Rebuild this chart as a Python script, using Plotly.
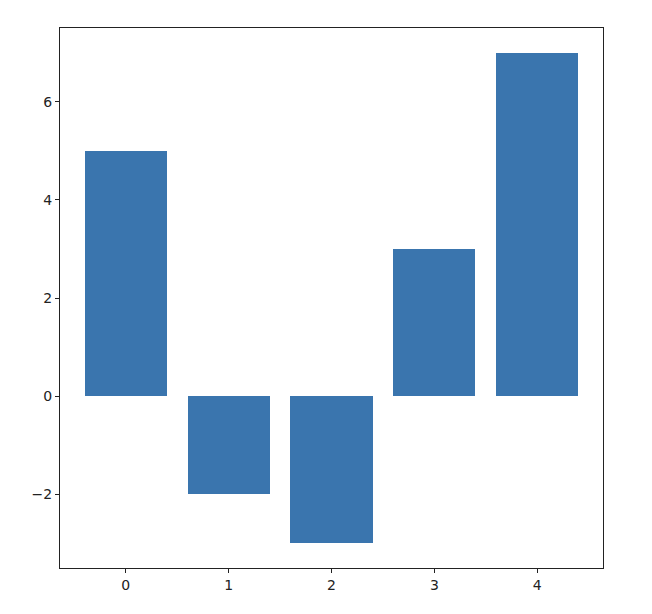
import plotly.graph_objects as go

categories = [0, 1, 2, 3, 4]
values = [5, -2, -3, 3, 7]
x_ticks = [0, 1, 2, 3, 4]
y_ticks = [-2, 0, 2, 4, 6]

BAR_COLOR = "#3a75ae"
AXIS_COLOR = "#222222"

fig = go.Figure()
fig.add_trace(
    go.Bar(
        x=categories,
        y=values,
        width=0.8,
        marker_color=BAR_COLOR,
        marker_line_width=0,
        showlegend=False,
    )
)

axis_style = dict(
    showline=True,
    linecolor=AXIS_COLOR,
    linewidth=1.2,
    mirror=True,
    ticks="outside",
    ticklen=4,
    tickwidth=1,
    tickcolor=AXIS_COLOR,
    showgrid=False,
    zeroline=False,
    tickfont=dict(family="DejaVu Sans", size=14, color="#222222"),
)

# page body adds an 8px offset, so margins are shifted to compensate
fig.update_layout(
    width=652,
    height=614,
    plot_bgcolor="white",
    paper_bgcolor="white",
    margin=dict(l=52, r=57, t=20, b=54),
    bargap=0,
)
fig.update_xaxes(range=[-0.64, 4.64], tickvals=x_ticks, **axis_style)
fig.update_yaxes(range=[-3.5, 7.5], tickvals=y_ticks, **axis_style)

fig.write_html("out.html")
